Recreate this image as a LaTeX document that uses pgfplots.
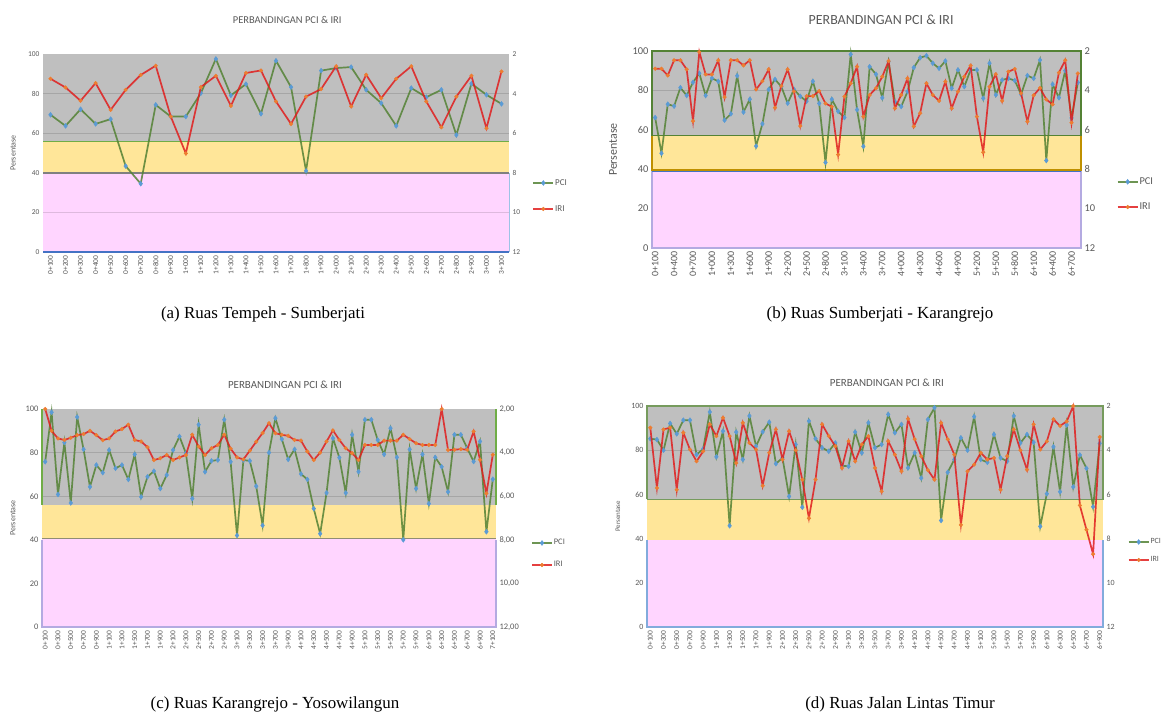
\documentclass[border=0pt]{standalone}
\usepackage{pgfplots}
\pgfplotsset{compat=1.18}
\usepackage{fontspec}
\setmainfont{Carlito}
\newfontfamily\capfont{Liberation Serif}
\definecolor{bandgray}{RGB}{191,191,191}
\definecolor{bandyellow}{RGB}{255,230,153}
\definecolor{bandpink}{RGB}{255,213,255}
\definecolor{pcigreen}{RGB}{84,130,53}
\definecolor{pciblue}{RGB}{91,155,213}
\definecolor{irired}{RGB}{224,30,30}
\definecolor{iriorange}{RGB}{237,125,49}
\definecolor{txtgray}{RGB}{89,89,89}
\definecolor{bordergreen}{RGB}{112,173,71}
\definecolor{borderyellow}{RGB}{191,144,0}
\definecolor{borderblue}{RGB}{68,114,196}
\definecolor{borderlav}{RGB}{180,170,225}
\definecolor{borderlb}{RGB}{157,195,230}
\pgfplotsset{
  legend image code/.code={\draw[mark repeat=2,mark phase=2,#1] plot coordinates {(0bp,0bp) (10bp,0bp) (20bp,0bp)};},
  leftax/.style={scale only axis, anchor=south west, ymin=0, ymax=100,
    ytick={0,20,40,60,80,100}, yticklabels={0,20,40,60,80,100},
    axis line style={draw=none}, major tick length=0pt, clip=false,
    tick label style={text=txtgray},
    x tick label style={rotate=90, anchor=east, text=txtgray},
    title style={anchor=center, yshift=-6pt, text=txtgray},
    ylabel style={anchor=center, text=txtgray},
    legend style={draw=none, fill=none, anchor=west, text=txtgray, inner sep=0pt,
      nodes={inner sep=1bp, minimum height=10bp}},
    legend cell align=left},
  rightax/.style={scale only axis, anchor=south west, ymin=2, ymax=12, y dir=reverse,
    axis y line*=right, axis x line=none, ytick={2,4,6,8,10,12},
    axis line style={draw=none}, major tick length=0pt, clip=false,
    tick label style={text=txtgray}},
  pci/.style={pcigreen, line width=1.7bp, draw opacity=0.85, mark=diamond*, mark size=2.4bp,
    mark options={draw=pciblue, fill=pciblue, draw opacity=1, line width=0.5bp}},
  iri/.style={irired, line width=1.7bp, draw opacity=0.85, mark=*, mark size=1.8bp,
    mark options={draw=iriorange, fill=iriorange, draw opacity=1, line width=0.5bp}},
  band/.style={forget plot, draw=none},
  bline/.style={forget plot, line width=1.5bp},
  grid/.style={forget plot, black, draw opacity=0.13, line width=0.8bp},
}
\begin{document}
\begin{tikzpicture}
\useasboundingbox (0,0) rectangle (1165bp,-720bp);

%%%%%%%%%%%%%%%% (a)
\begin{axis}[leftax, at={(43bp,-252bp)}, width=466bp, height=198bp,
  xmin=-0.5, xmax=30.5, xtick={0,...,30},
  xticklabels={0+100,0+200,0+300,0+400,0+500,0+600,0+700,0+800,0+900,1+000,1+100,1+200,1+300,1+400,1+500,1+600,1+700,1+800,1+900,2+000,2+100,2+200,2+300,2+400,2+500,2+600,2+700,2+800,2+900,3+000,3+100},
  x tick label style={font=\fontsize{7.5}{8}\selectfont},
  y tick label style={font=\fontsize{7.5}{9}\selectfont},
  title={PERBANDINGAN PCI \& IRI}, title style={at={(0.524,1.172)}, font=\fontsize{10.5}{12}\selectfont},
  ylabel={Persentase}, ylabel style={at={(-0.064,0.5)}, font=\fontsize{8}{9}\selectfont},
  legend style={at={(1.05,0.283)}, font=\fontsize{9}{10}\selectfont, row sep=16bp}]
\addplot[band, fill=bandgray] coordinates {(-0.5,55.7) (30.5,55.7) (30.5,100) (-0.5,100)};
\addplot[band, fill=bandyellow] coordinates {(-0.5,40) (30.5,40) (30.5,55.7) (-0.5,55.7)};
\addplot[band, fill=bandpink] coordinates {(-0.5,0) (30.5,0) (30.5,40) (-0.5,40)};
\addplot[grid] coordinates {(-0.5,80) (30.5,80)};
\addplot[grid] coordinates {(-0.5,60) (30.5,60)};
\addplot[grid] coordinates {(-0.5,20) (30.5,20)};
\addplot[bline, bordergreen] coordinates {(-0.5,55.7) (30.5,55.7)};
\addplot[bline, gray] coordinates {(-0.5,40) (30.5,40)};
\addplot[bline, borderlb, line width=1bp] coordinates {(30.5,0) (30.5,40)};
\addplot[bline, borderblue] coordinates {(-0.5,0) (30.5,0)};
\addplot[pci] coordinates {(0,69.3) (1,63.7) (2,72.1) (3,64.7) (4,67.1) (5,43.4) (6,34.5) (7,74.3) (8,68.4) (9,68.4) (10,80.2) (11,97.5) (12,79.1) (13,84.8) (14,69.8) (15,96.6) (16,83.3) (17,41.0) (18,91.6) (19,92.9) (20,93.4) (21,81.9) (22,75.2) (23,63.7) (24,82.8) (25,78.2) (26,81.9) (27,59.1) (28,85.0) (29,79.4) (30,74.8)};
\addlegendentry{PCI}
\addlegendimage{iri}
\addlegendentry{IRI}
\end{axis}
\begin{axis}[rightax, at={(43bp,-252bp)}, width=466bp, height=198bp,
  xmin=-0.5, xmax=30.5, yticklabels={2,4,6,8,10,12},
  y tick label style={font=\fontsize{7.5}{9}\selectfont}]
\addplot[iri] coordinates {(0,3.25) (1,3.69) (2,4.36) (3,3.47) (4,4.82) (5,3.81) (6,3.06) (7,2.59) (8,5.16) (9,7.02) (10,3.67) (11,3.10) (12,4.62) (13,2.96) (14,2.83) (15,4.40) (16,5.53) (17,4.15) (18,3.77) (19,2.62) (20,4.65) (21,3.05) (22,4.23) (23,3.25) (24,2.62) (25,4.40) (26,5.70) (27,4.15) (28,3.10) (29,5.75) (30,2.88)};
\end{axis}

%%%%%%%%%%%%%%%% (b)
\begin{axis}[leftax, at={(652bp,-248bp)}, width=429bp, height=197bp,
  xmin=-0.5, xmax=67.5, xtick={0,3,...,66},
  xticklabels={0+100,0+400,0+700,1+000,1+300,1+600,1+900,2+200,2+500,2+800,3+100,3+400,3+700,4+000,4+300,4+600,4+900,5+200,5+500,5+800,6+100,6+400,6+700},
  x tick label style={font=\fontsize{10}{11}\selectfont},
  y tick label style={font=\fontsize{10.5}{12}\selectfont},
  title={PERBANDINGAN PCI \& IRI}, title style={at={(0.534,1.157)}, font=\fontsize{14}{16}\selectfont},
  ylabel={Persentase}, ylabel style={at={(-0.091,0.5)}, font=\fontsize{12}{14}\selectfont},
  legend style={at={(1.083,0.272)}, font=\fontsize{10.5}{12}\selectfont, row sep=15bp}]
\addplot[band, fill=bandgray] coordinates {(-0.5,57) (67.5,57) (67.5,100) (-0.5,100)};
\addplot[band, fill=bandyellow] coordinates {(-0.5,39) (67.5,39) (67.5,57) (-0.5,57)};
\addplot[band, fill=bandpink] coordinates {(-0.5,0) (67.5,0) (67.5,39) (-0.5,39)};
\addplot[grid] coordinates {(-0.5,80) (67.5,80)};
\addplot[bline, borderlav] coordinates {(-0.5,39) (-0.5,0) (67.5,0) (67.5,39)};
\addplot[bline, borderyellow] coordinates {(-0.5,57) (-0.5,39.6) (67.5,39.6) (67.5,57)};
\addplot[bline, borderblue, line width=1.2bp] coordinates {(-0.5,38.8) (67.5,38.8)};
\addplot[bline, pcigreen] coordinates {(-0.5,57) (-0.5,100) (67.5,100) (67.5,57) (-0.5,57)};
\addplot[pci] coordinates {(0,66.2) (1,48.1) (2,73.0) (3,72.0) (4,81.4) (5,77.4) (6,84.1) (7,88.7) (8,77.4) (9,86.2) (10,84.6) (11,64.9) (12,68.1) (13,87.4) (14,69.0) (15,75.5) (16,51.7) (17,63.0) (18,80.5) (19,85.6) (20,81.9) (21,73.5) (22,80.5) (23,77.0) (24,74.5) (25,84.6) (26,73.4) (27,43.4) (28,75.5) (29,69.4) (30,66.2) (31,98.3) (32,70.2) (33,51.6) (34,92.0) (35,88.2) (36,76.2) (37,94.6) (38,74.3) (39,71.8) (40,79.4) (41,91.6) (42,96.6) (43,97.6) (44,93.8) (45,91.2) (46,94.9) (47,81.1) (48,90.4) (49,81.9) (50,90.4) (51,90.4) (52,76.0) (53,93.8) (54,77.7) (55,85.3) (56,86.1) (57,85.0) (58,78.0) (59,87.5) (60,86.1) (61,95.4) (62,44.4) (63,83.1) (64,76.3) (65,90.0) (66,66.0) (67,84.0)};
\addlegendentry{PCI}
\addlegendimage{iri}
\addlegendentry{IRI}
\end{axis}
\begin{axis}[rightax, at={(652bp,-248bp)}, width=429bp, height=197bp,
  xmin=-0.5, xmax=67.5, yticklabels={2,4,6,8,10,12},
  y tick label style={font=\fontsize{10.5}{12}\selectfont}]
\addplot[iri] coordinates {(0,2.90) (1,2.90) (2,3.24) (3,2.47) (4,2.47) (5,2.93) (6,5.56) (7,2.05) (8,3.19) (9,3.19) (10,2.47) (11,4.34) (12,2.47) (13,2.47) (14,2.73) (15,2.47) (16,3.95) (17,3.53) (18,2.93) (19,4.88) (20,3.78) (21,2.93) (22,4.05) (23,5.81) (24,4.29) (25,4.29) (26,4.03) (27,4.66) (28,4.83) (29,7.26) (30,4.31) (31,3.64) (32,2.79) (33,5.33) (34,4.23) (35,3.89) (36,3.30) (37,2.51) (38,4.91) (39,4.23) (40,3.39) (41,5.83) (42,5.16) (43,3.64) (44,4.23) (45,4.53) (46,3.55) (47,4.91) (48,4.06) (49,3.30) (50,2.74) (51,5.33) (52,7.14) (53,3.81) (54,3.18) (55,4.53) (56,3.05) (57,2.91) (58,4.15) (59,5.58) (60,4.25) (61,3.88) (62,4.46) (63,4.71) (64,3.10) (65,2.47) (66,5.64) (67,3.14)};
\end{axis}

%%%%%%%%%%%%%%%% (c)
\begin{axis}[leftax, at={(42bp,-627bp)}, width=454bp, height=218bp,
  xmin=-0.5, xmax=70.5, xtick={0,2,...,70},
  xticklabels={0+100,0+300,0+500,0+700,0+900,1+100,1+300,1+500,1+700,1+900,2+100,2+300,2+500,2+700,2+900,3+100,3+300,3+500,3+700,3+900,4+100,4+300,4+500,4+700,4+900,5+100,5+300,5+500,5+700,5+900,6+100,6+300,6+500,6+700,6+900,7+100},
  x tick label style={font=\fontsize{7.5}{8}\selectfont},
  y tick label style={font=\fontsize{8.5}{10}\selectfont},
  title={PERBANDINGAN PCI \& IRI}, title style={at={(0.535,1.11)}, font=\fontsize{11}{13}\selectfont},
  ylabel={Persentase}, ylabel style={at={(-0.064,0.5)}, font=\fontsize{8}{9}\selectfont},
  legend style={at={(1.077,0.335)}, font=\fontsize{8.5}{10}\selectfont, row sep=12bp}]
\addplot[band, fill=bandgray] coordinates {(-0.5,56) (70.5,56) (70.5,100) (-0.5,100)};
\addplot[band, fill=bandyellow] coordinates {(-0.5,40.5) (70.5,40.5) (70.5,56) (-0.5,56)};
\addplot[band, fill=bandpink] coordinates {(-0.5,0) (70.5,0) (70.5,40.5) (-0.5,40.5)};
\addplot[grid] coordinates {(-0.5,80) (70.5,80)};
\addplot[grid] coordinates {(-0.5,60) (70.5,60)};
\addplot[bline, borderlav] coordinates {(-0.5,40) (-0.5,0) (70.5,0) (70.5,40)};
\addplot[bline, gray!80!olive] coordinates {(-0.5,40.5) (70.5,40.5)};
\addplot[bline, bordergreen] coordinates {(-0.5,56) (-0.5,100)};
\addplot[bline, bordergreen] coordinates {(70.5,56) (70.5,100)};
\addplot[pci] coordinates {(0,75.8) (1,98.5) (2,60.8) (3,84.6) (4,56.9) (5,96.3) (6,81.5) (7,64.3) (8,74.3) (9,70.8) (10,81.2) (11,72.8) (12,74.3) (13,67.7) (14,79.2) (15,59.7) (16,68.9) (17,71.5) (18,63.5) (19,69.7) (20,81.2) (21,87.4) (22,79.7) (23,58.9) (24,92.8) (25,71.2) (26,76.2) (27,76.6) (28,95.1) (29,75.8) (30,42.0) (31,76.6) (32,76.2) (33,64.6) (34,46.6) (35,80.0) (36,95.8) (37,86.2) (38,76.9) (39,81.5) (40,70.2) (41,67.7) (42,54.3) (43,42.8) (44,61.5) (45,86.6) (46,77.7) (47,61.5) (48,88.2) (49,71.2) (50,95.1) (51,95.1) (52,85.8) (53,79.2) (54,91.2) (55,77.8) (56,40.0) (57,81.5) (58,63.5) (59,79.2) (60,56.6) (61,77.8) (62,73.5) (63,62.0) (64,88.2) (65,88.2) (66,82.0) (67,75.9) (68,85.1) (69,43.7) (70,67.8)};
\addlegendentry{PCI}
\addlegendimage{iri}
\addlegendentry{IRI}
\end{axis}
\begin{axis}[rightax, at={(42bp,-627bp)}, width=454bp, height=218bp,
  xmin=-0.5, xmax=70.5, yticklabels={{2,00},{4,00},{6,00},{8,00},{10,00},{12,00}},
  y tick label style={font=\fontsize{8.5}{10}\selectfont}]
\addplot[iri] coordinates {(0,2.00) (1,3.00) (2,3.35) (3,3.42) (4,3.32) (5,3.20) (6,3.15) (7,3.00) (8,3.20) (9,3.43) (10,3.35) (11,3.03) (12,2.92) (13,2.72) (14,3.42) (15,3.49) (16,3.75) (17,4.34) (18,4.26) (19,4.11) (20,4.34) (21,4.22) (22,4.11) (23,3.18) (24,3.72) (25,4.11) (26,3.80) (27,3.65) (28,3.18) (29,3.82) (30,4.22) (31,4.31) (32,3.91) (33,3.50) (34,3.10) (35,2.65) (36,3.11) (37,3.18) (38,3.23) (39,3.42) (40,3.45) (41,3.95) (42,4.34) (43,4.00) (44,3.49) (45,2.98) (46,3.42) (47,3.80) (48,4.03) (49,4.34) (50,3.65) (51,3.65) (52,3.65) (53,3.45) (54,3.45) (55,3.45) (56,3.18) (57,3.38) (58,3.57) (59,3.65) (60,3.65) (61,3.65) (62,2.00) (63,3.88) (64,3.87) (65,3.84) (66,3.87) (67,3.03) (68,4.33) (69,5.87) (70,4.10)};
\end{axis}

%%%%%%%%%%%%%%%% (d)
\begin{axis}[leftax, at={(647bp,-627bp)}, width=456bp, height=221bp,
  xmin=-0.5, xmax=68.5, xtick={0,2,...,68},
  xticklabels={0+100,0+300,0+500,0+700,0+900,1+100,1+300,1+500,1+700,1+900,2+100,2+300,2+500,2+700,2+900,3+100,3+300,3+500,3+700,3+900,4+100,4+300,4+500,4+700,4+900,5+100,5+300,5+500,5+700,5+900,6+100,6+300,6+500,6+700,6+900},
  x tick label style={font=\fontsize{7.5}{8}\selectfont},
  y tick label style={font=\fontsize{8}{9}\selectfont},
  title={PERBANDINGAN PCI \& IRI}, title style={at={(0.526,1.104)}, font=\fontsize{11}{13}\selectfont},
  ylabel={Persentase}, ylabel style={at={(-0.064,0.5)}, font=\fontsize{7}{8}\selectfont},
  legend style={at={(1.054,0.344)}, font=\fontsize{8}{9}\selectfont, row sep=8bp}]
\addplot[band, fill=bandgray] coordinates {(-0.5,57.8) (68.5,57.8) (68.5,100) (-0.5,100)};
\addplot[band, fill=bandyellow] coordinates {(-0.5,39.4) (68.5,39.4) (68.5,57.8) (-0.5,57.8)};
\addplot[band, fill=bandpink] coordinates {(-0.5,0) (68.5,0) (68.5,39.4) (-0.5,39.4)};
\addplot[grid] coordinates {(-0.5,80) (68.5,80)};
\addplot[bline, borderlb!70!borderblue] coordinates {(-0.5,39.4) (-0.5,0) (68.5,0) (68.5,39.4)};
\addplot[bline, pcigreen!80!white] coordinates {(-0.5,57.8) (-0.5,100) (68.5,100) (68.5,57.8) (-0.5,57.8)};
\addplot[pci] coordinates {(0,85.2) (1,84.8) (2,80.0) (3,92.1) (4,87.4) (5,93.6) (6,93.6) (7,78.0) (8,80.6) (9,97.3) (10,77.0) (11,88.6) (12,45.8) (13,88.2) (14,75.8) (15,95.5) (16,81.8) (17,88.3) (18,92.7) (19,73.9) (20,76.5) (21,59.1) (22,82.6) (23,54.2) (24,93.2) (25,85.2) (26,81.1) (27,79.5) (28,83.3) (29,73.0) (30,72.7) (31,88.2) (32,78.8) (33,92.4) (34,81.1) (35,82.6) (36,96.2) (37,87.9) (38,91.7) (39,72.0) (40,78.8) (41,67.4) (42,93.9) (43,99.2) (44,48.2) (45,70.0) (46,75.8) (47,85.6) (48,80.0) (49,95.2) (50,75.8) (51,74.5) (52,87.1) (53,76.5) (54,75.0) (55,95.5) (56,83.3) (57,87.1) (58,83.6) (59,45.5) (60,60.3) (61,81.5) (62,61.2) (63,91.4) (64,63.4) (65,77.8) (66,71.8) (67,54.4) (68,83.1)};
\addlegendentry{PCI}
\addlegendimage{iri}
\addlegendentry{IRI}
\end{axis}
\begin{axis}[rightax, at={(647bp,-627bp)}, width=456bp, height=221bp,
  xmin=-0.5, xmax=68.5, yticklabels={2,4,6,8,10,12},
  y tick label style={font=\fontsize{8}{9}\selectfont}]
\addplot[iri] coordinates {(0,2.98) (1,5.71) (2,3.06) (3,2.98) (4,5.79) (5,3.21) (6,3.97) (7,4.50) (8,4.05) (9,2.83) (10,3.36) (11,2.53) (12,3.36) (13,4.58) (14,2.76) (15,3.67) (16,3.97) (17,5.61) (18,4.12) (19,3.06) (20,4.42) (21,3.14) (22,4.00) (23,5.33) (24,7.08) (25,5.33) (26,2.83) (27,3.36) (28,3.82) (29,4.80) (30,3.59) (31,4.50) (32,3.74) (33,3.36) (34,4.80) (35,5.86) (36,3.59) (37,4.20) (38,4.95) (39,2.58) (40,3.50) (41,4.27) (42,4.90) (43,5.33) (44,2.76) (45,3.50) (46,4.20) (47,7.38) (48,4.95) (49,4.65) (50,4.12) (51,4.42) (52,4.35) (53,5.79) (54,4.27) (55,3.06) (56,4.00) (57,4.88) (58,2.83) (59,3.97) (60,3.60) (61,2.60) (62,2.90) (63,2.70) (64,2.00) (65,6.50) (66,7.60) (67,8.70) (68,3.40)};
\end{axis}

%%%%%%%%%%%%%%%% captions
\node[font=\capfont\fontsize{17}{20}\selectfont] at (263bp,-314bp) {(a) Ruas Tempeh - Sumberjati};
\node[font=\capfont\fontsize{17}{20}\selectfont] at (880bp,-314bp) {(b) Ruas Sumberjati - Karangrejo};
\node[font=\capfont\fontsize{17}{20}\selectfont] at (275bp,-704bp) {(c) Ruas Karangrejo - Yosowilangun};
\node[font=\capfont\fontsize{17}{20}\selectfont] at (900bp,-704bp) {(d) Ruas Jalan Lintas Timur};
\end{tikzpicture}
\end{document}
